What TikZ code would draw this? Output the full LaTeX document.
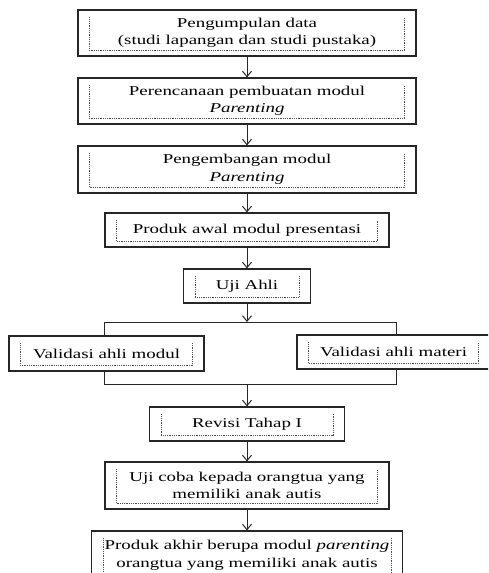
\documentclass[tikz,border=0pt]{standalone}
\usepackage{fontspec}
\setmainfont{Liberation Serif}[FakeStretch=1.4,
  ItalicFont=Liberation Serif Italic, ItalicFeatures={FakeStretch=1.4}]
\usetikzlibrary{arrows.meta}

\tikzset{
  tahap/.style={draw=black!85, line width=1.1pt, inner sep=0pt, align=center,
    font=\fontsize{13.5}{17.5}\selectfont},
  panah/.style={-{Straight Barb[length=5.5pt, width=9pt]}, line width=1pt, color=black!85},
  garis/.style={line width=1pt, color=black!85},
  bingkai/.style={densely dotted, line width=0.8pt, color=black!70}
}

\begin{document}
\begin{tikzpicture}[x=1pt, y=-1pt]
  \useasboundingbox (0,0) rectangle (488,573);
  \clip (0,0) rectangle (488,573);

  \node[tahap, minimum width=338pt, minimum height=46pt] (kumpul) at (247,33)
    {Pengumpulan data\\(studi lapangan dan studi pustaka)};
  \node[tahap, minimum width=338pt, minimum height=46pt] (rencana) at (247,101)
    {Perencanaan pembuatan modul\\\textit{Parenting}};
  \node[tahap, minimum width=338pt, minimum height=47pt] (kembang) at (247,169.5)
    {Pengembangan modul\\\textit{Parenting}};
  \node[tahap, minimum width=284pt, minimum height=34pt] (produk) at (247,230)
    {Produk awal modul presentasi};
  \node[tahap, minimum width=127pt, minimum height=34pt] (uji) at (247,286)
    {Uji Ahli};

  \node[tahap, minimum width=195pt, minimum height=35pt] (valmodul) at (106.5,353.5)
    {Validasi ahli modul};
  \node[tahap, minimum width=193pt, minimum height=34pt] (valmateri) at (393.5,352)
    {Validasi ahli materi};

  \node[tahap, minimum width=195pt, minimum height=34pt] (revisi) at (247,424)
    {Revisi Tahap I};
  \node[tahap, minimum width=284pt, minimum height=47pt] (ujicoba) at (247,485.5)
    {Uji coba kepada orangtua yang\\memiliki anak autis};
  \node[tahap, minimum width=311pt, minimum height=49pt] (akhir) at (247,555.5)
    {Produk akhir berupa modul \textit{parenting}\\orangtua yang memiliki anak autis};

  % bingkai titik-titik di dalam kotak
  \foreach \n in {kumpul, rencana, kembang, produk, uji, valmodul, valmateri, revisi, ujicoba, akhir}
    \draw[bingkai] ([shift={(12pt,-8pt)}]\n.north west) -- ([shift={(12pt,6pt)}]\n.south west)
      -- ([shift={(-12pt,6pt)}]\n.south east) -- ([shift={(-12pt,-8pt)}]\n.north east);

  \draw[panah] (kumpul) -- (rencana);
  \draw[panah] (rencana) -- (kembang);
  \draw[panah] (kembang) -- (produk);
  \draw[panah] (produk) -- (uji);

  \coordinate (cabang) at (247,322);
  \coordinate (kiri) at (104,322);
  \coordinate (kanan) at (396,322);
  \draw[panah] (uji) -- (cabang);
  \draw[garis] (kiri) -- (kanan);
  \draw[garis] (kiri) -- (kiri |- valmodul.north);
  \draw[garis] (kanan) -- (kanan |- valmateri.north);

  \coordinate (gabung) at (247,384);
  \coordinate (kiribawah) at (104,384);
  \coordinate (kananbawah) at (396,384);
  \draw[garis] (kiribawah |- valmodul.south) -- (kiribawah) -- (kananbawah) -- (kananbawah |- valmateri.south);
  \draw[panah] (gabung) -- (revisi);

  \draw[panah] (revisi) -- (ujicoba);
  \draw[panah] (ujicoba) -- (akhir);

\end{tikzpicture}
\end{document}
